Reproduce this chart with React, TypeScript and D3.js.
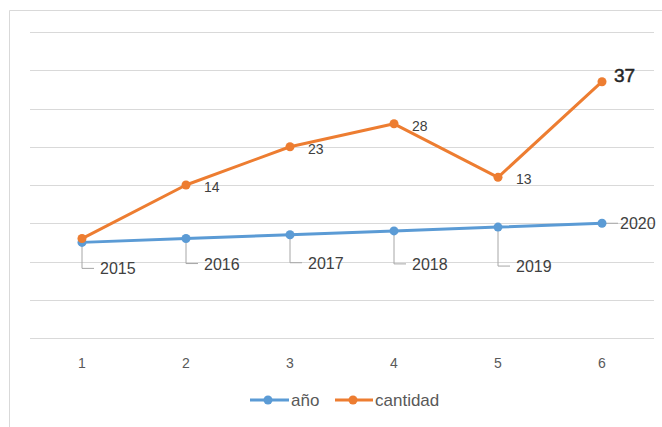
import React from "react";
import * as d3 from "d3";

const categories = ["1", "2", "3", "4", "5", "6"];
const anio = [2015, 2016, 2017, 2018, 2019, 2020];
const cantidad = [1, 14, 23, 28, 13, 37];
const yTicks = [1990, 2000, 2010, 2020, 2030, 2040, 2050, 2060, 2070];
const seriesNames = ["año", "cantidad"];

const W = 662;
const H = 427;
const BLUE = "#5B9BD5";
const ORANGE = "#ED7D31";
const FONT = "'Liberation Sans', Arial, sans-serif";

export default function App() {
  const x = d3.scaleBand().domain(categories).range([30, 654]);
  const cx = (i: number) => (x(categories[i]) as number) + x.bandwidth() / 2;
  const y = d3.scaleLinear().domain([1990, 2070]).range([338, 32]);
  const stacked = anio.map((v, i) => v + cantidad[i]);

  const line = d3
    .line<number>()
    .x((_, i) => cx(i))
    .y((d) => y(d));

  // leader offsets for year labels (style)
  const yearLabelDrop = [26, 25, 28, 33, 39];

  return (
    <svg
      width={W}
      height={H}
      style={{ position: "absolute", left: 0, top: 0, background: "#fff" }}
      fontFamily={FONT}
    >
      {/* chart border */}
      <line x1={9.5} y1={10.5} x2={W} y2={10.5} stroke="#d9d9d9" />
      <line x1={9.5} y1={10.5} x2={9.5} y2={H} stroke="#d9d9d9" />

      {/* gridlines */}
      {yTicks.map((t) => (
        <line
          key={t}
          x1={30}
          x2={654}
          y1={Math.round(y(t)) + 0.5}
          y2={Math.round(y(t)) + 0.5}
          stroke="#d9d9d9"
          strokeWidth={1}
        />
      ))}

      {/* category labels */}
      {categories.map((c, i) => (
        <text
          key={c}
          x={cx(i)}
          y={368}
          textAnchor="middle"
          fontSize={14}
          fill="#595959"
        >
          {c}
        </text>
      ))}

      {/* year leader lines */}
      {anio.slice(0, 5).map((v, i) => {
        const px = cx(i);
        const py = y(v);
        const ly = py + yearLabelDrop[i];
        return (
          <path
            key={"ld" + i}
            d={`M${px},${py + 4} L${px},${ly} L${px + 12},${ly}`}
            fill="none"
            stroke="#a6a6a6"
            strokeWidth={1}
          />
        );
      })}
      <line
        x1={cx(5)}
        x2={cx(5) + 16}
        y1={y(anio[5])}
        y2={y(anio[5])}
        stroke="#a6a6a6"
      />

      {/* lines */}
      <path d={line(anio) || ""} fill="none" stroke={BLUE} strokeWidth={3} strokeLinejoin="round" />
      <path d={line(stacked) || ""} fill="none" stroke={ORANGE} strokeWidth={3} strokeLinejoin="round" />

      {anio.map((v, i) => (
        <circle key={"b" + i} cx={cx(i)} cy={y(v)} r={4.5} fill={BLUE} />
      ))}
      {stacked.map((v, i) => (
        <circle key={"o" + i} cx={cx(i)} cy={y(v)} r={4.5} fill={ORANGE} />
      ))}

      {/* year labels */}
      {anio.slice(0, 5).map((v, i) => (
        <text
          key={"yl" + i}
          x={cx(i) + 18}
          y={y(v) + yearLabelDrop[i] + 6}
          fontSize={16}
          fill="#404040"
        >
          {v}
        </text>
      ))}
      <text x={cx(5) + 18} y={y(anio[5]) + 6} fontSize={16} fill="#404040">
        {anio[5]}
      </text>

      {/* cantidad labels */}
      {cantidad.slice(1, 5).map((v, i) => (
        <text
          key={"cl" + i}
          x={cx(i + 1) + 18}
          y={y(stacked[i + 1]) + 7}
          fontSize={14}
          fill="#404040"
        >
          {v}
        </text>
      ))}
      <text
        x={cx(5) + 12}
        y={y(stacked[5]) + 0}
        fontSize={19}
        fill="#262626"
        stroke="#262626"
        strokeWidth={0.5}
      >
        {cantidad[5]}
      </text>

      {/* legend */}
      <g>
        <line x1={250} x2={289} y1={400} y2={400} stroke={BLUE} strokeWidth={3} />
        <circle cx={268} cy={400} r={4.5} fill={BLUE} />
        <text x={291} y={406} fontSize={17} fill="#595959">
          {seriesNames[0]}
        </text>
        <line x1={335} x2={373} y1={400} y2={400} stroke={ORANGE} strokeWidth={3} />
        <circle cx={353} cy={400} r={4.5} fill={ORANGE} />
        <text x={375} y={406} fontSize={17} fill="#595959">
          {seriesNames[1]}
        </text>
      </g>
    </svg>
  );
}
